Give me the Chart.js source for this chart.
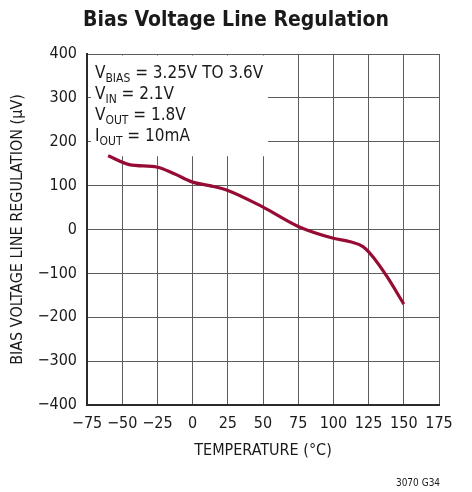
<!DOCTYPE html>
<html lang="en">
<head>
    <meta http-equiv="Content-Type" content="text/html;charset=UTF-8">
    <title>Bias Voltage Line Regulation</title>
    <script src="https://cdn.jsdelivr.net/npm/chart.js@4.4.0/dist/chart.umd.js"></script>
    <style>
        html, body { margin: 0; padding: 0; background: white; }
        #wrap { width: 472px; height: 492px; }
    </style>
</head>
<body>
<div id="wrap"><canvas id="chart" width="472" height="492"></canvas></div>
<script>
    // values
    var temps = [-60, -45, -25, -13, 0, 12, 25, 50, 75, 100, 112, 121, 128, 138, 150];
    var regulation = [168, 148, 142, 127, 108, 100, 89, 51, 7, -20, -28, -39, -62, -107, -170];
    var xTicks = [-75, -50, -25, 0, 25, 50, 75, 100, 125, 150, 175];
    var yTicks = [-400, -300, -200, -100, 0, 100, 200, 300, 400];

    var FONT = '"Liberation Sans Narrow", "DejaVu Sans Condensed", sans-serif';

    function minus(v) {
        return String(v).replace('-', '\u2212');
    }

    // title, condition box and figure number
    var extras = {
        id: 'extras',
        beforeDatasetsDraw: function (chart) {
            var ctx = chart.ctx;
            var x = chart.scales.x, y = chart.scales.y;
            var a = chart.chartArea;
            // white box for the conditions, hides the grid underneath
            ctx.save();
            ctx.fillStyle = 'white';
            var right = x.getPixelForValue(53.5);
            var bottom = y.getPixelForValue(167);
            ctx.fillRect(a.left + 4, a.top + 1.5, right - a.left - 4, bottom - a.top - 1.5);
            ctx.restore();
        },
        afterDraw: function (chart) {
            var ctx = chart.ctx;
            ctx.save();
            ctx.fillStyle = '#1a1a1a';
            ctx.textAlign = 'center';
            ctx.textBaseline = 'middle';
            ctx.font = 'bold 21px ' + FONT;
            ctx.fillText('Bias Voltage Line Regulation', chart.width / 2, 21);

            ctx.font = '10px ' + FONT;
            ctx.fillText('3070 G34', 418, 483);

            // condition lines with subscripts
            var lines = [
                ['V', 'BIAS', ' = 3.25V TO 3.6V'],
                ['V', 'IN', ' = 2.1V'],
                ['V', 'OUT', ' = 1.8V'],
                ['I', 'OUT', ' = 10mA']
            ];
            ctx.textAlign = 'left';
            ctx.textBaseline = 'alphabetic';
            var left = chart.chartArea.left + 8;
            for (var i = 0; i < lines.length; i++) {
                var base = 78 + i * 21;
                var px = left;
                ctx.font = '17px ' + FONT;
                ctx.fillText(lines[i][0], px, base);
                px += ctx.measureText(lines[i][0]).width;
                ctx.font = '12px ' + FONT;
                ctx.fillText(lines[i][1], px, base + 4);
                px += ctx.measureText(lines[i][1]).width;
                ctx.font = '17px ' + FONT;
                ctx.fillText(lines[i][2], px, base);
            }
            ctx.restore();
        }
    };

    new Chart(document.getElementById('chart').getContext('2d'), {
        type: 'line',
        data: {
            datasets: [
                {
                    data: temps.map(function (t, i) { return { x: t, y: regulation[i] }; }),
                    borderColor: '#970c34',
                    borderWidth: 3.2,
                    pointRadius: 0,
                    fill: false,
                    cubicInterpolationMode: 'monotone'
                }
            ]
        },
        options: {
            responsive: false,
            animation: false,
            layout: {
                padding: { top: 54, left: 0, right: 33, bottom: 0 }
            },
            plugins: {
                legend: { display: false },
                title: { display: false },
                tooltip: { enabled: false }
            },
            scales: {
                x: {
                    type: 'linear',
                    min: -75,
                    max: 175,
                    afterFit: function (scale) { scale.height = 87; },
                    afterBuildTicks: function (scale) {
                        scale.ticks = xTicks.map(function (v) { return { value: v }; });
                    },
                    ticks: {
                        color: '#1a1a1a',
                        font: { family: FONT, size: 16 },
                        padding: 9,
                        maxRotation: 0,
                        autoSkip: false,
                        callback: function (v) { return minus(v); }
                    },
                    grid: { color: '#5c5c5c', lineWidth: 1, drawTicks: false },
                    border: { color: '#2a2a2a', width: 2 },
                    title: {
                        display: true,
                        text: 'TEMPERATURE (\u00B0C)',
                        color: '#1a1a1a',
                        font: { family: FONT, size: 16 },
                        padding: { top: 0, bottom: 32 }
                    }
                },
                y: {
                    type: 'linear',
                    min: -400,
                    max: 400,
                    afterFit: function (scale) { scale.width = 87; },
                    afterBuildTicks: function (scale) {
                        scale.ticks = yTicks.map(function (v) { return { value: v }; });
                    },
                    ticks: {
                        color: '#1a1a1a',
                        font: { family: FONT, size: 16 },
                        padding: 10,
                        autoSkip: false,
                        callback: function (v) { return minus(v); }
                    },
                    grid: { color: '#5c5c5c', lineWidth: 1, drawTicks: false },
                    border: { color: '#2a2a2a', width: 2 },
                    title: {
                        display: true,
                        text: 'BIAS VOLTAGE LINE REGULATION (\u00B5V)',
                        color: '#1a1a1a',
                        font: { family: FONT, size: 16 },
                        padding: { top: 8, bottom: 0 }
                    }
                }
            }
        },
        plugins: [extras]
    });
</script>
</body>
</html>
